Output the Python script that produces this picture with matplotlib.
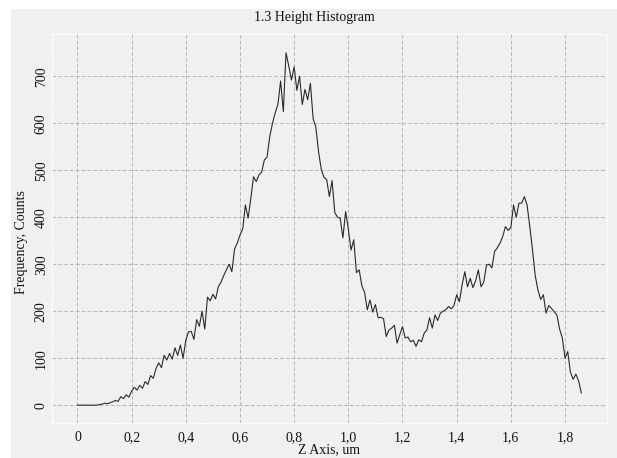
import matplotlib

matplotlib.use("Agg")

import matplotlib.pyplot as plt
import numpy as np
from matplotlib.patches import Rectangle

plt.rcParams["font.family"] = ["Liberation Serif", "DejaVu Serif"]

# histogram counts, one per 0.01 um bin starting at 0
counts = [
    0, 0, 0, 0, 0, 0, 0, 0, 1, 2,
    4, 3, 5, 7, 10, 8, 18, 14, 22, 17,
    30, 38, 32, 42, 36, 50, 44, 63, 57, 78,
    90, 80, 106, 96, 110, 98, 122, 106, 128, 100,
    138, 156, 157, 140, 182, 168, 200, 162, 230, 222,
    236, 226, 252, 262, 276, 288, 300, 284, 332, 345,
    362, 375, 426, 398, 440, 486, 476, 490, 496, 522,
    528, 572, 600, 622, 640, 690, 625, 750, 722, 692,
    720, 670, 700, 640, 672, 650, 685, 610, 592, 540,
    502, 485, 480, 444, 478, 410, 400, 398, 356, 412,
    375, 330, 352, 282, 288, 254, 240, 203, 224, 198,
    214, 186, 187, 184, 146, 160, 164, 170, 132, 150,
    167, 143, 145, 135, 138, 125, 139, 135, 153, 160,
    186, 164, 192, 180, 196, 200, 203, 210, 205, 212,
    235, 220, 256, 284, 252, 270, 250, 265, 288, 252,
    262, 298, 300, 292, 327, 335, 345, 359, 380, 372,
    378, 426, 400, 430, 430, 444, 426, 380, 330, 276,
    245, 225, 235, 196, 212, 206, 199, 192, 162, 143,
    100, 114, 70, 55, 66, 52, 26,
]
bin_width = 0.01
z = np.arange(len(counts)) * bin_width

x_ticks = [0, 0.2, 0.4, 0.6, 0.8, 1.0, 1.2, 1.4, 1.6, 1.8]
x_labels = ["0", "0,2", "0,4", "0,6", "0,8", "1,0", "1,2", "1,4", "1,6", "1,8"]
y_ticks = [0, 100, 200, 300, 400, 500, 600, 700]

bg = "#f0f0f0"
W, H = 617, 458

fig = plt.figure(figsize=(W / 100, H / 100), dpi=100, facecolor="white")
fig.patches.append(Rectangle((11 / W, 0), 1 - 11 / W, 1 - 9 / H,
                             transform=fig.transFigure, facecolor=bg,
                             edgecolor="none", zorder=-10))

ax = fig.add_axes([52 / W, 1 - 423 / H, (607 - 52) / W, (423 - 34) / H])
ax.set_facecolor(bg)
ax.plot(z, counts, color="#2a2a2a", lw=0.8)

ax.set_xlim(-0.094, 1.955)
ax.set_ylim(-38, 790)
ax.set_xticks(x_ticks)
ax.set_xticklabels(x_labels)
ax.set_yticks(y_ticks)
ax.set_yticklabels([str(v) for v in y_ticks], rotation=90, va="center")
ax.tick_params(axis="both", length=0, labelsize=10, colors="#111111")
ax.tick_params(axis="x", pad=6)
ax.tick_params(axis="y", pad=3)

ax.grid(True, color="#b8b8b8", lw=0.7, ls=(0, (4, 2)))
ax.set_axisbelow(True)
for sp in ax.spines.values():
    sp.set_color("white")
    sp.set_linestyle(":")
    sp.set_linewidth(1.0)

fig.text(314 / W, 1 - 18 / H, "1.3 Height Histogram", ha="center",
         va="center", fontsize=10, color="#111111")
fig.text(329 / W, 1 - 450 / H, "Z Axis, um", ha="center", va="center",
         fontsize=10, color="#111111")
fig.text(22 / W, 1 - 242 / H, "Frequency, Counts", ha="center", va="center",
         rotation=90, fontsize=10, color="#111111")

fig.savefig("out.png", dpi=100, facecolor="white")
